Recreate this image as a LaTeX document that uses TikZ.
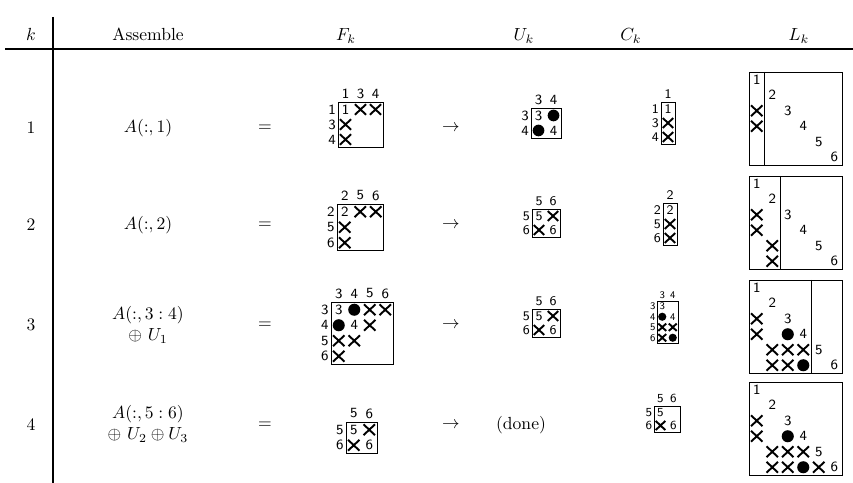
\documentclass[tikz,border=0pt]{standalone}
\usepackage{amsmath,amssymb}
\usetikzlibrary{positioning}

\tikzset{
  mtx/.style n args={4}{shift={(#1,#2)},x={#3*0.57pt},y={-#3*0.57pt},
    nodes={font=\sffamily\fontsize{#4}{#4}\selectfont,inner sep=0pt}},
  xm/.style={line width=1.1pt},
  box/.style={line width=0.55pt},
  rule/.style={line width=0.6pt},
  hrule/.style={line width=1.6pt},
}
% entries of a pattern, in cell units (col,row from 0)
\newcommand\crs[2]{\draw[xm] (#1+.13,#2+.15) -- (#1+.87,#2+.85) (#1+.87,#2+.15) -- (#1+.13,#2+.85);}
\newcommand\blob[2]{\fill (#1+.5,#2+.5) circle[radius=.39];}
\newcommand\ent[3]{\node at (#1+.5,#2+.5) {#3};}
\newcommand\collab[1]{\foreach \lb [count=\j from 0] in {#1} \node at (\j+.5,-.55) {\lb};}
\newcommand\rowlab[1]{\foreach \lb [count=\j from 0] in {#1} \node at (-.4,\j+.5) {\lb};}
\newcommand\diagL{\foreach \j in {1,...,6} \node at (\j-.5,\j-.5) {\j};}

\begin{document}
\begin{tikzpicture}[x=0.57pt,y=-0.57pt]
  \useasboundingbox (0,0) rectangle (853,483);
  %
  % header
  \node[anchor=base] (hk) at (31,41) {$k$};
  \node[anchor=base] (hasm) at (148,41) {Assemble};
  \node[anchor=base] (hf) at (346,41) {$F_k$};
  \node[anchor=base] (hu) at (524,41) {$U_k$};
  \node[anchor=base] (hc) at (631,41) {$C_k$};
  \node[anchor=base] (hl) at (799,41) {$L_k$};
  \draw[rule] (53,17) -- (53,483);
  \draw[hrule] (5,49) -- (853,49);
  %
  % left columns
  \node (k1) at (31,128) {1};
  \node (k2) at (31,225) {2};
  \node (k3) at (31,325) {3};
  \node (k4) at (31,425) {4};
  \node (a1) at (148,128) {$A(:,1)$};
  \node (a2) at (148,225) {$A(:,2)$};
  \node[align=center] (a3) at (148,325) {$A(:,3:4)$\\$\oplus\ U_1$};
  \node[align=center] (a4) at (148,424) {$A(:,5:6)$\\$\oplus\ U_2\oplus U_3$};
  \foreach \r/\y in {1/128,2/225,3/325,4/425} {
    \node (eq\r) at (265,\y) {$=$};
    \node (to\r) at (451,\y) {$\rightarrow$};
  }
  \node (done) at (521,425) {(done)};
  %
  % k = 1
  \begin{scope}[mtx={338}{102}{15}{8}]
    \draw[box] (0,0) rectangle (3,3);
    \collab{1,3,4} \rowlab{1,3,4}
    \ent{0}{0}{1} \crs{1}{0} \crs{2}{0} \crs{0}{1} \crs{0}{2}
  \end{scope}
  \begin{scope}[mtx={531}{108}{15}{8}]
    \draw[box] (0,0) rectangle (2,2);
    \collab{3,4} \rowlab{3,4}
    \ent{0}{0}{3} \blob{1}{0} \blob{0}{1} \ent{1}{1}{4}
  \end{scope}
  \begin{scope}[mtx={661}{102}{14}{7.5}]
    \draw[box] (0,0) rectangle (1,3);
    \collab{1} \rowlab{1,3,4}
    \ent{0}{0}{1} \crs{0}{1} \crs{0}{2}
  \end{scope}
  \begin{scope}[mtx={749}{72}{15.5}{8}]
    \draw[box] (0,0) rectangle (6,6) (1,0) -- (1,6);
    \diagL
    \crs{0}{2} \crs{0}{3}
  \end{scope}
  %
  % k = 2
  \begin{scope}[mtx={337}{204}{15.5}{8}]
    \draw[box] (0,0) rectangle (3,3);
    \collab{2,5,6} \rowlab{2,5,6}
    \ent{0}{0}{2} \crs{1}{0} \crs{2}{0} \crs{0}{1} \crs{0}{2}
  \end{scope}
  \begin{scope}[mtx={532}{209}{14}{7.5}]
    \draw[box] (0,0) rectangle (2,2);
    \collab{5,6} \rowlab{5,6}
    \ent{0}{0}{5} \crs{1}{0} \crs{0}{1} \ent{1}{1}{6}
  \end{scope}
  \begin{scope}[mtx={663}{203}{14}{7.5}]
    \draw[box] (0,0) rectangle (1,3);
    \collab{2} \rowlab{2,5,6}
    \ent{0}{0}{2} \crs{0}{1} \crs{0}{2}
  \end{scope}
  \begin{scope}[mtx={749}{176}{15.5}{8}]
    \draw[box] (0,0) rectangle (6,6) (2,0) -- (2,6);
    \diagL
    \crs{0}{2} \crs{0}{3} \crs{1}{4} \crs{1}{5}
  \end{scope}
  %
  % k = 3
  \begin{scope}[mtx={331}{302}{15.5}{8}]
    \draw[box] (0,0) rectangle (4,4);
    \collab{3,4,5,6} \rowlab{3,4,5,6}
    \ent{0}{0}{3} \blob{1}{0} \crs{2}{0} \crs{3}{0}
    \blob{0}{1} \ent{1}{1}{4} \crs{2}{1}
    \crs{0}{2} \crs{1}{2}
    \crs{0}{3}
  \end{scope}
  \begin{scope}[mtx={532}{309}{14}{7.5}]
    \draw[box] (0,0) rectangle (2,2);
    \collab{5,6} \rowlab{5,6}
    \ent{0}{0}{5} \crs{1}{0} \crs{0}{1} \ent{1}{1}{6}
  \end{scope}
  \begin{scope}[mtx={657}{301}{10.5}{5.8}]
    \draw[box] (0,0) rectangle (2,4);
    \collab{3,4} \rowlab{3,4,5,6}
    \ent{0}{0}{3} \blob{0}{1} \ent{1}{1}{4}
    \crs{0}{2} \crs{1}{2} \crs{0}{3} \blob{1}{3}
  \end{scope}
  \begin{scope}[mtx={749}{280}{15.5}{8}]
    \draw[box] (0,0) rectangle (6,6) (4,0) -- (4,6);
    \diagL
    \crs{0}{2} \crs{0}{3} \crs{1}{4} \crs{1}{5}
    \blob{2}{3} \crs{2}{4} \crs{2}{5} \crs{3}{4} \blob{3}{5}
  \end{scope}
  %
  % k = 4
  \begin{scope}[mtx={346}{422}{15.5}{8}]
    \draw[box] (0,0) rectangle (2,2);
    \collab{5,6} \rowlab{5,6}
    \ent{0}{0}{5} \crs{1}{0} \crs{0}{1} \ent{1}{1}{6}
  \end{scope}
  \begin{scope}[mtx={654}{406}{13}{7}]
    \draw[box] (0,0) rectangle (2,2);
    \collab{5,6} \rowlab{5,6}
    \ent{0}{0}{5} \crs{0}{1} \ent{1}{1}{6}
  \end{scope}
  \begin{scope}[mtx={749}{382}{15.5}{8}]
    \draw[box] (0,0) rectangle (6,6);
    \diagL
    \crs{0}{2} \crs{0}{3} \crs{1}{4} \crs{1}{5}
    \blob{2}{3} \crs{2}{4} \crs{2}{5} \crs{3}{4} \blob{3}{5} \crs{4}{5}
  \end{scope}
\end{tikzpicture}
\end{document}
